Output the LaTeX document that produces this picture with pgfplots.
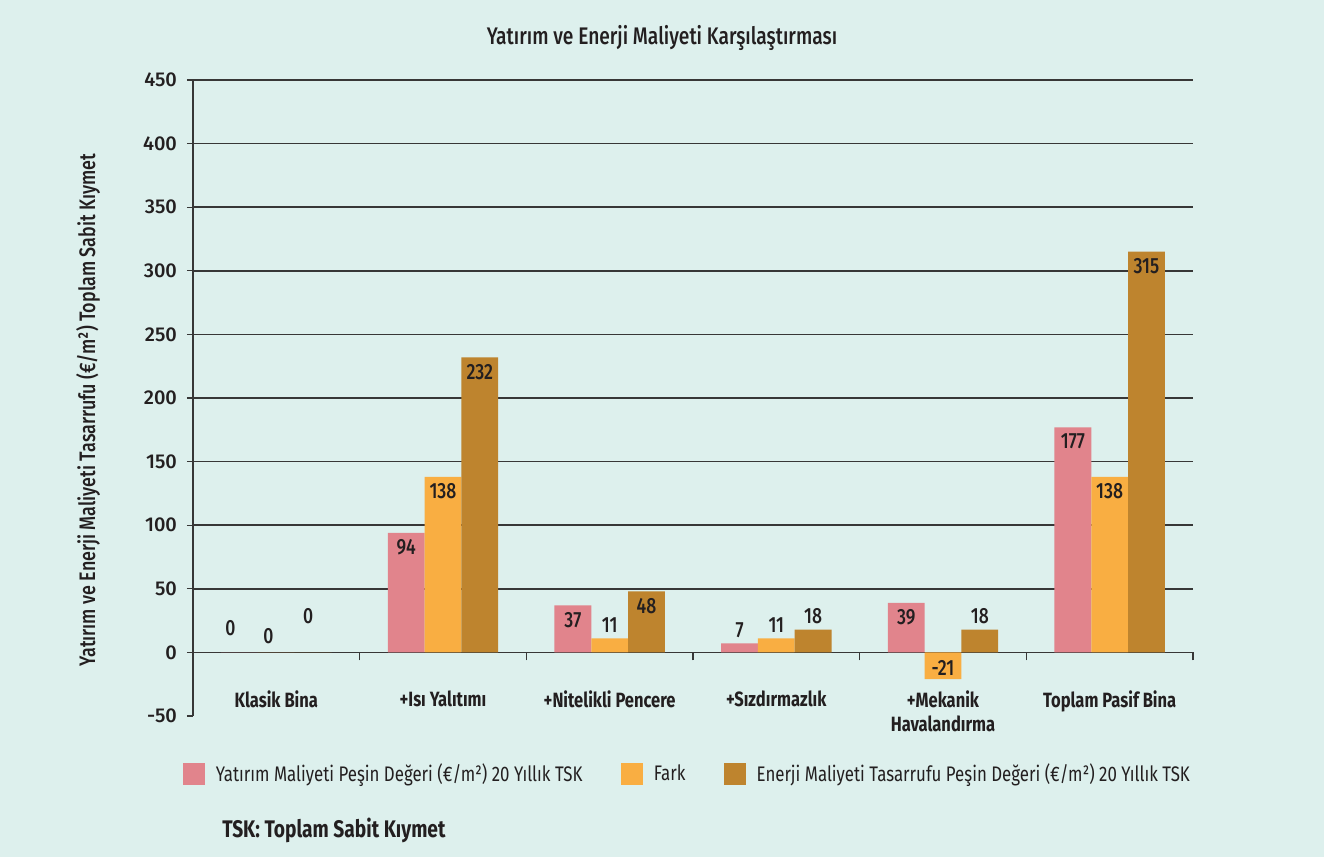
\documentclass[border=0pt]{standalone}
\usepackage{fontspec}
\setmainfont{Fira Sans}[FakeStretch=0.8]
\newfontfamily\fsmed{Fira Sans Medium}[FakeStretch=0.8]
\newfontfamily\numfont{Fira Sans Medium}
\usepackage{pgfplots}
\pgfplotsset{compat=1.18}
\definecolor{bgc}{RGB}{221,240,237}
\definecolor{pinkc}{RGB}{225,132,140}
\definecolor{orangec}{RGB}{249,174,66}
\definecolor{brownc}{RGB}{190,132,46}
\definecolor{gridc}{RGB}{55,55,55}
\definecolor{txt}{RGB}{35,31,32}

\begin{document}
\begin{tikzpicture}
\fill[bgc] (0pt,0pt) rectangle (993pt,642.75pt);
\node[font=\fsmed\fontsize{18}{19}\selectfont, text=txt] at (496.5pt,614pt) {Yatırım ve Enerji Maliyeti Karşılaştırması};
\node[font=\bfseries\fontsize{18}{19}\selectfont, text=txt, anchor=west, inner sep=0pt] at (166.5pt,20.25pt) {TSK: Toplam Sabit Kıymet};
\begin{axis}[
  at={(144.75pt,105.75pt)}, anchor=south west,
  scale only axis, width=750pt, height=477pt,
  xmin=-0.5, xmax=5.5, ymin=-50, ymax=450,
  axis y line*=left, axis x line*=middle,
  hide obscured x ticks=false, hide obscured y ticks=false,
  axis line style={gridc, line width=0.8pt},
  ytick={-50,0,...,450},
  extra y ticks={0,50,...,450}, extra y tick labels={},
  extra y tick style={grid=major, major tick length=0pt},
  major grid style={gridc, line width=1.1pt},
  ytick align=outside, major tick length=4.5pt,
  ytick style={gridc, line width=0.8pt},
  yticklabel style={font=\numfont\fontsize{15}{16}\selectfont, text=txt, xshift=-4pt},
  /pgf/number format/assume math mode=true,
  xtick={0,...,5},
  xticklabels={Klasik Bina, +Isı Yalıtımı, +Nitelikli Pencere, +Sızdırmazlık, {+Mekanik\\Havalandırma}, Toplam Pasif Bina},
  xticklabel style={font=\bfseries\fontsize{15.5}{17.5}\selectfont, text=txt, align=center, anchor=north, yshift=-21pt},
  major x tick style={draw=none},
  minor xtick={-0.5,0.5,1.5,2.5,3.5,4.5,5.5},
  minor tick length=6pt,
  xtick align=outside,
  minor x tick style={gridc, line width=0.8pt},
  ybar=0pt, bar width=27.6pt,
  nodes near coords style={font=\fsmed\fontsize{16.5}{17}\selectfont, text=txt},
  ylabel={Yatırım ve Enerji Maliyeti Tasarrufu (€/m²) Toplam Sabit Kıymet},
  ylabel style={at={(axis description cs:-0.105,0.481)}, anchor=center, font=\fsmed\fontsize{16.8}{17}\selectfont, text=txt},
  legend columns=3,
  legend style={at={(axis description cs:-0.01,-0.0912)}, anchor=west, draw=none, fill=none, inner sep=0pt,
    font=\fontsize{15.8}{16}\selectfont, text=txt,
    /tikz/every odd column/.append style={column sep=6pt},
    /tikz/every even column/.append style={column sep=27pt}},
  legend image code/.code={\fill[#1] (0pt,-8.25pt) rectangle (16.5pt,8.25pt);},
  inlab/.style={draw=none, fill=none, forget plot, nodes near coords,
    every node near coord/.append style={anchor=north, yshift=-1.5pt}},
  uplab/.style={draw=none, fill=none, forget plot, nodes near coords,
    every node near coord/.append style={anchor=south, yshift=0.8pt}},
]
% bars
\addplot[fill=pinkc, draw=none, bar shift=-27.6pt] coordinates {(0,0) (1,94) (2,37) (3,7) (4,39) (5,177)};
\addlegendentry{Yatırım Maliyeti Peşin Değeri (€/m²) 20 Yıllık TSK}
\addplot[fill=orangec, draw=none, bar shift=0pt] coordinates {(0,0) (1,138) (2,11) (3,11) (4,-21) (5,138)};
\addlegendentry{Fark}
\addplot[fill=brownc, draw=none, bar shift=27.6pt] coordinates {(0,0) (1,232) (2,48) (3,18) (4,18) (5,315)};
\addlegendentry{Enerji Maliyeti Tasarrufu Peşin Değeri (€/m²) 20 Yıllık TSK}
% value labels (inside the bar top / above the bar)
\addplot[inlab, bar shift=-27.6pt] coordinates {(1,94) (2,37) (4,39) (5,177)};
\addplot[uplab, bar shift=-27.6pt] coordinates {(3,7)};
\addplot[inlab, bar shift=0pt] coordinates {(1,138) (5,138)};
\addplot[uplab, bar shift=0pt] coordinates {(2,11) (3,11)};
\addplot[draw=none, fill=none, forget plot, nodes near coords, bar shift=0pt,
  every node near coord/.append style={anchor=south, yshift=-1pt}] coordinates {(4,-21)};
\addplot[inlab, bar shift=27.6pt] coordinates {(1,232) (2,48) (5,315)};
\addplot[uplab, bar shift=27.6pt] coordinates {(3,18) (4,18)};
% the three zero labels of "Klasik Bina", set at staggered heights as in the original
\addplot[uplab, bar shift=-27.6pt, every node near coord/.append style={xshift=-6.75pt, yshift=8.25pt}] coordinates {(0,0)};
\addplot[uplab, bar shift=0pt, every node near coord/.append style={xshift=-6pt, yshift=2.25pt}] coordinates {(0,0)};
\addplot[uplab, bar shift=27.6pt, every node near coord/.append style={xshift=-3.75pt, yshift=17.25pt}] coordinates {(0,0)};
\end{axis}
\end{tikzpicture}
\end{document}
